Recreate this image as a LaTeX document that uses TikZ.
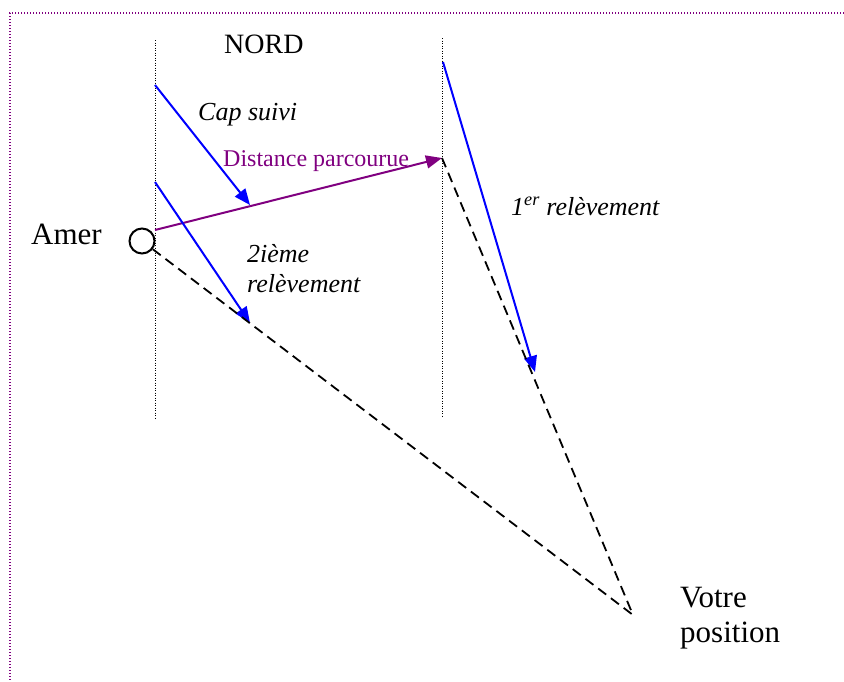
\documentclass[tikz,border=0pt]{standalone}
\usepackage{fontspec}
\setmainfont{Liberation Serif}
\usetikzlibrary{arrows.meta}
\definecolor{visecol}{RGB}{0,0,255}
\definecolor{routecol}{RGB}{128,0,128}

\begin{document}
\begin{tikzpicture}[x=1pt,y=-1pt,
   cadre/.style={routecol,line width=1.2pt,dash pattern=on 1.2pt off 1.8pt},
   nordline/.style={line width=1pt,dash pattern=on 1pt off 1.5pt},
   vise/.style={-{Triangle[length=16pt,width=13pt]},line width=2pt,visecol},
   route/.style={-{Triangle[length=16pt,width=13pt]},line width=2pt,routecol},
   trait/.style={line width=1.8pt,dash pattern=on 10pt off 6pt},
   lbl/.style={inner sep=0pt,anchor=base west,font=\fontsize{31}{35}\selectfont},
   ilbl/.style={lbl,font=\fontsize{26}{30}\selectfont\itshape}]
  \useasboundingbox (0,0) rectangle (844,681);
  % cadre
  \draw[cadre] (844,13) -- (10,13) -- (10,681);

  % lignes du nord
  \coordinate (n1a) at (155,40);  \coordinate (n1b) at (155,418);
  \coordinate (n2a) at (442,38);  \coordinate (n2b) at (442,418);
  \draw[nordline] (n1a) -- (n1b);
  \draw[nordline] (n2a) -- (n2b);
  \node[lbl,font=\fontsize{28}{32}\selectfont] (nord) at (224,53) {NORD};

  % amer et position
  \node[draw,circle,minimum size=25pt,inner sep=0pt,line width=2pt] (amer) at (142,241) {};
  \node[lbl,anchor=base east] (amerlbl) at (102,244) {Amer};
  \coordinate (pos) at (633,615);
  \node[lbl,align=left] (votre) at (680,642) {Votre\\position};

  % cap suivi et distance
  \coordinate (cap0) at (155,85);  \coordinate (cap1) at (250,205);
  \coordinate (dep)  at (155,230); \coordinate (arr)  at (442,158);
  \draw[vise] (cap0) -- (cap1);
  \draw[route] (dep) -- (arr);
  \node[ilbl] (caplbl) at (198,120) {Cap suivi};
  \node[lbl,routecol,font=\fontsize{24}{28}\selectfont] (distlbl) at (223,166) {Distance parcourue};

  % relevements
  \coordinate (r1a) at (443,62);  \coordinate (r1b) at (535,372);
  \coordinate (r2a) at (155,182); \coordinate (r2b) at (250,323);
  \draw[vise] (r1a) -- (r1b);
  \draw[vise] (r2a) -- (r2b);
  \node[ilbl] (rel1lbl) at (511,215) {1\textsuperscript{er} relèvement};
  \node[ilbl,align=left] (rel2lbl) at (247,292) {2ième\\relèvement};

  % droites de position
  \draw[trait] (amer) -- (pos);
  \draw[trait] (arr) -- (pos);
\end{tikzpicture}
\end{document}
